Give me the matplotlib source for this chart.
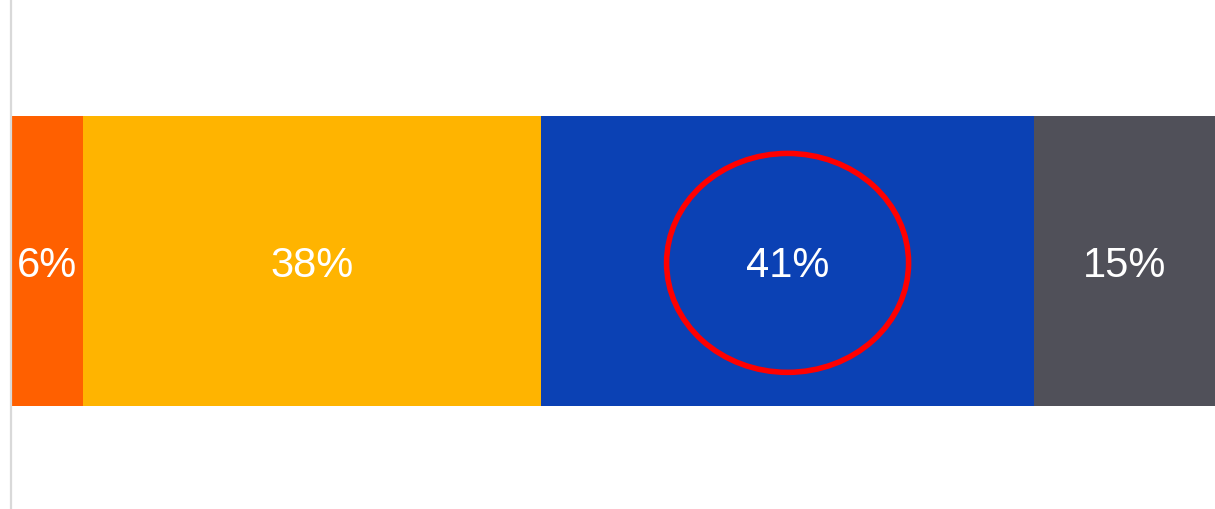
import matplotlib.pyplot as plt
from matplotlib.patches import Ellipse

plt.rcParams['font.family'] = ['Liberation Sans', 'DejaVu Sans']

# доли сегментов в процентах
shares = [6, 38, 41, 15]
labels = ['6%', '38%', '41%', '15%']
colors = ['#FF6000', '#FFB400', '#0B41B4', '#505059']
highlight = 2  # сегмент, обведённый красным

fig = plt.figure(figsize=(12.15, 5.1), dpi=100)
ax = fig.add_axes([11 / 1215, 0, 1 - 11 / 1215, 1])

left = 0
for i, (v, lab, c) in enumerate(zip(shares, labels, colors)):
    ax.barh(0, v, left=left, height=0.8, color=c, linewidth=0)
    cx = left + v / 2
    ax.text(cx, -0.012, lab, ha='center', va='center', color='white', fontsize=30)
    if i == highlight:
        ax.add_patch(Ellipse((cx, -0.005), 20.1, 0.604, fill=False,
                             edgecolor='#FF0000', linewidth=4, zorder=5))
    left += v

ax.set_xlim(0, sum(shares))
ax.set_ylim(-0.684, 0.723)
ax.set_xticks([])
ax.set_yticks([])
for side in ['top', 'right', 'bottom']:
    ax.spines[side].set_visible(False)
ax.spines['left'].set_color('#D9D9D9')
ax.spines['left'].set_linewidth(1.6)

fig.savefig('out.png', dpi=100)
